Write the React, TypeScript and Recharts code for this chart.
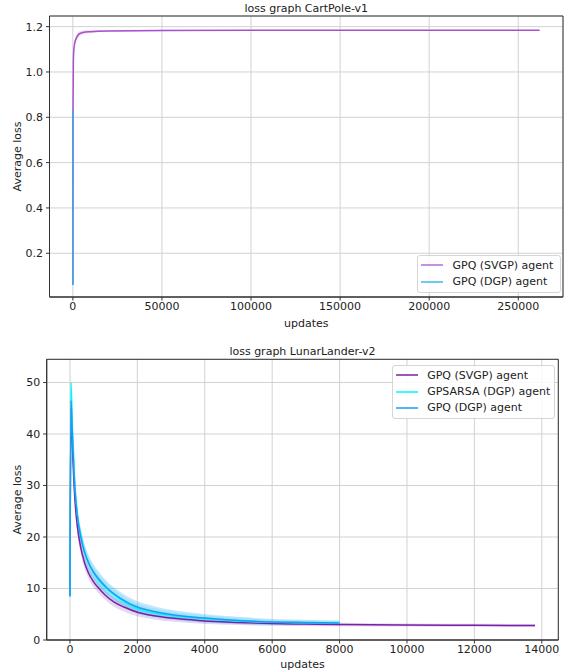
import React from 'react';
import { ComposedChart, Line, Area, XAxis, YAxis, CartesianGrid, Legend, ReferenceArea } from 'recharts';

const FONT = '"DejaVu Sans", sans-serif';

// ---------- CartPole-v1 ----------
const cartTitle = 'loss graph CartPole-v1';
const cartXTicks = [0, 50000, 100000, 150000, 200000, 250000];
const cartYTicks = [0.2, 0.4, 0.6, 0.8, 1.0, 1.2];
const cartSvgpX = [0, 100, 300, 600, 1000, 2000, 3000, 4000, 6000, 10000, 20000, 50000, 100000, 180000, 262000];
const cartSvgpY = [0.06, 0.83, 1.05, 1.1, 1.125, 1.15, 1.163, 1.17, 1.175, 1.178, 1.181, 1.183, 1.184, 1.184, 1.184];
const cartSvgpSpread = [0, 0.01, 0.015, 0.015, 0.014, 0.013, 0.012, 0.01, 0.008, 0.006, 0.004, 0.003, 0.002, 0.002, 0.002];
const cartDgpX = [0, 50, 100];
const cartDgpY = [0.06, 0.45, 0.83];

// ---------- LunarLander-v2 ----------
const lunarTitle = 'loss graph LunarLander-v2';
const lunarXTicks = [0, 2000, 4000, 6000, 8000, 10000, 12000, 14000];
const lunarYTicks = [0, 10, 20, 30, 40, 50];
const lunarSvgpX = [0, 30, 70, 140, 220, 320, 420, 550, 700, 860, 1050, 1300, 1600, 2000, 2500, 3000, 3900, 5000, 6000, 7000, 8000, 10000, 12000, 13800];
const lunarSvgpY = [8.5, 45, 38, 28, 22, 18, 15.3, 13.0, 11.3, 10.0, 8.7, 7.4, 6.4, 5.4, 4.7, 4.25, 3.75, 3.4, 3.2, 3.1, 3.0, 2.9, 2.85, 2.8];
const lunarSvgpSpread = [0.5, 1.5, 1.5, 1.4, 1.3, 1.2, 1.15, 1.1, 1.05, 1.0, 0.95, 0.9, 0.85, 0.8, 0.7, 0.65, 0.6, 0.5, 0.45, 0.4, 0.35, 0.3, 0.3, 0.3];
const lunarOtherX = [0, 30, 70, 140, 220, 320, 420, 550, 700, 850, 1100, 1500, 2000, 2500, 3000, 3900, 5000, 6000, 7000, 8000];
const lunarSarsaY = [8.5, 50, 42, 31, 24.5, 20.5, 17.6, 15.0, 13.0, 11.6, 9.9, 7.9, 6.1, 5.25, 4.75, 4.15, 3.7, 3.45, 3.35, 3.3];
const lunarSarsaSpread = [0.5, 2.0, 1.8, 1.6, 1.5, 1.4, 1.35, 1.3, 1.25, 1.2, 1.1, 1.0, 1.0, 0.9, 0.8, 0.7, 0.6, 0.5, 0.45, 0.4];
const lunarDgpY = [8.5, 46.5, 40, 30, 24, 20, 17.3, 15.0, 13.2, 11.9, 10.1, 8.1, 6.4, 5.55, 4.95, 4.3, 3.8, 3.5, 3.4, 3.3];
const lunarDgpSpread = [0.5, 1.8, 1.8, 1.7, 1.65, 1.6, 1.55, 1.5, 1.45, 1.4, 1.3, 1.2, 1.1, 1.0, 0.9, 0.8, 0.7, 0.6, 0.55, 0.5];

const build = (xs: number[], ys: number[], sp?: number[]) =>
  xs.map((x, i) => ({ x, y: ys[i], band: sp ? [ys[i] - sp[i], ys[i] + sp[i]] : undefined }));

const cartSvgp = build(cartSvgpX, cartSvgpY, cartSvgpSpread);
const cartDgp = build(cartDgpX, cartDgpY);
const lunarSvgp = build(lunarSvgpX, lunarSvgpY, lunarSvgpSpread);
const lunarSarsa = build(lunarOtherX, lunarSarsaY, lunarSarsaSpread);
const lunarDgp = build(lunarOtherX, lunarDgpY, lunarDgpSpread);

const C_TOP_SVGP = '#a752cc';
const C_TOP_DGP = '#3aa8ee';
const C_SVGP = '#7a1fa8';
const C_SARSA = '#00f5ff';
const C_DGP = '#1f9bf0';

const tickStyle = { fill: '#222', fontSize: 11, fontFamily: FONT };

const makeLegend = (items: { name: string; color: string }[], width: number) => () => (
  <div
    style={{
      width,
      boxSizing: 'border-box',
      border: '1px solid #d6d6d6',
      borderRadius: 3,
      background: 'rgba(255,255,255,0.85)',
      padding: '1px 0 2px 3px',
      fontFamily: FONT,
      fontSize: 11,
      color: '#222',
    }}
  >
    {items.map((it) => (
      <div key={it.name} style={{ display: 'flex', alignItems: 'center', height: 16.4 }}>
        <svg width={22} height={4} style={{ marginRight: 9.5 }}>
          <line x1={0} y1={2} x2={22} y2={2} stroke={it.color} strokeWidth={1.5} />
        </svg>
        <span style={{ whiteSpace: 'nowrap', lineHeight: '13px' }}>{it.name}</span>
      </div>
    ))}
  </div>
);

const titleStyle = (left: number, width: number, top: number): React.CSSProperties => ({
  position: 'absolute',
  left,
  width,
  top,
  textAlign: 'center',
  fontFamily: FONT,
  fontSize: 11,
  lineHeight: '13px',
  color: '#222',
});

export default function App() {
  return (
    <div style={{ position: 'absolute', left: 0, top: 0, width: 565, height: 671, background: '#fff', fontFamily: FONT }}>
      <div style={{ position: 'absolute', left: 0, top: 0, width: 565, height: 335 }}>
        <div style={titleStyle(49.5, 513.5, 1.5)}>{cartTitle}</div>
        <ComposedChart width={565} height={335} margin={{ top: 16, right: 2, bottom: 8, left: 9.5 }}>
          <CartesianGrid stroke="#d2d2d2" strokeWidth={1} />
          <XAxis
            type="number"
            dataKey="x"
            domain={[-13100, 275100]}
            ticks={cartXTicks}
            allowDataOverflow
            height={30}
            tickSize={3.5}
            tickMargin={2}
            stroke="#333"
            tick={tickStyle}
            label={{ value: 'updates', position: 'insideBottom', offset: 0, style: { fill: '#222', fontSize: 11, fontFamily: FONT } }}
          />
          <YAxis
            type="number"
            domain={[0.007, 1.247]}
            ticks={cartYTicks}
            allowDataOverflow
            width={40}
            tickSize={3.5}
            tickMargin={3}
            stroke="#333"
            tick={tickStyle}
            tickFormatter={(v: number) => v.toFixed(1)}
            label={{ value: 'Average loss', angle: -90, position: 'insideLeft', offset: 7.5, style: { textAnchor: 'middle', fill: '#222', fontSize: 11, fontFamily: FONT } }}
          />
          <Area data={cartSvgp} dataKey="band" type="monotone" stroke="none" fill={C_TOP_SVGP} fillOpacity={0.2} isAnimationActive={false} legendType="none" />
          <Line data={cartSvgp} dataKey="y" name="GPQ (SVGP) agent" type="monotone" stroke={C_TOP_SVGP} strokeWidth={1.5} dot={false} activeDot={false} isAnimationActive={false} />
          <Line data={cartDgp} dataKey="y" name="GPQ (DGP) agent" type="linear" stroke={C_TOP_DGP} strokeWidth={1.5} dot={false} activeDot={false} isAnimationActive={false} />
          <ReferenceArea x1={-13100} x2={275100} y1={0.007} y2={1.247} fill="none" stroke="#333" strokeWidth={1} ifOverflow="visible" />
          <Legend
            layout="vertical"
            align="center"
            verticalAlign="middle"
            wrapperStyle={{ left: 417, top: 255, width: 144 }}
            content={makeLegend(
              [
                { name: 'GPQ (SVGP) agent', color: '#b36bd6' },
                { name: 'GPQ (DGP) agent', color: '#40b8f5' },
              ],
              144
            )}
          />
        </ComposedChart>
      </div>
      <div style={{ position: 'absolute', left: 0, top: 335, width: 565, height: 336 }}>
        <div style={titleStyle(46.7, 511.6, 9.5)}>{lunarTitle}</div>
        <ComposedChart width={565} height={336} margin={{ top: 24.3, right: 6.7, bottom: 0, left: 10.7 }}>
          <CartesianGrid stroke="#d2d2d2" strokeWidth={1} />
          <XAxis
            type="number"
            dataKey="x"
            domain={[-690, 14490]}
            ticks={lunarXTicks}
            allowDataOverflow
            height={31}
            tickSize={3.5}
            tickMargin={2}
            stroke="#333"
            tick={tickStyle}
            label={{ value: 'updates', position: 'insideBottom', offset: 3, style: { fill: '#222', fontSize: 11, fontFamily: FONT } }}
          />
          <YAxis
            type="number"
            domain={[0, 54.5]}
            ticks={lunarYTicks}
            allowDataOverflow
            width={36}
            tickSize={3.5}
            tickMargin={3}
            stroke="#333"
            tick={tickStyle}
            label={{ value: 'Average loss', angle: -90, position: 'insideLeft', offset: 6, style: { textAnchor: 'middle', fill: '#222', fontSize: 11, fontFamily: FONT } }}
          />
          <Area data={lunarSvgp} dataKey="band" type="monotone" stroke="none" fill={C_SVGP} fillOpacity={0.18} isAnimationActive={false} legendType="none" />
          <Line data={lunarSvgp} dataKey="y" name="GPQ (SVGP) agent" type="monotone" stroke={C_SVGP} strokeWidth={1.5} dot={false} activeDot={false} isAnimationActive={false} />
          <Area data={lunarSarsa} dataKey="band" type="monotone" stroke="none" fill={C_SARSA} fillOpacity={0.2} isAnimationActive={false} legendType="none" />
          <Line data={lunarSarsa} dataKey="y" name="GPSARSA (DGP) agent" type="monotone" stroke={C_SARSA} strokeWidth={1.5} dot={false} activeDot={false} isAnimationActive={false} />
          <Area data={lunarDgp} dataKey="band" type="monotone" stroke="none" fill={C_DGP} fillOpacity={0.25} isAnimationActive={false} legendType="none" />
          <Line data={lunarDgp} dataKey="y" name="GPQ (DGP) agent" type="monotone" stroke={C_DGP} strokeWidth={1.5} dot={false} activeDot={false} isAnimationActive={false} />
          <ReferenceArea x1={-690} x2={14490} y1={0} y2={54.5} fill="none" stroke="#333" strokeWidth={1} ifOverflow="visible" />
          <Legend
            layout="vertical"
            align="center"
            verticalAlign="middle"
            wrapperStyle={{ left: 391.7, top: 30, width: 163 }}
            content={makeLegend(
              [
                { name: 'GPQ (SVGP) agent', color: C_SVGP },
                { name: 'GPSARSA (DGP) agent', color: C_SARSA },
                { name: 'GPQ (DGP) agent', color: C_DGP },
              ],
              163
            )}
          />
        </ComposedChart>
      </div>
    </div>
  );
}
